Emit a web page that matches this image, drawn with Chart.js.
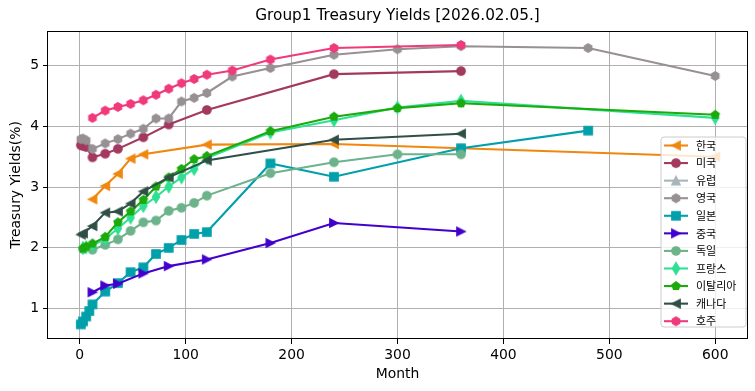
<!DOCTYPE html>
<html><head><meta charset="utf-8">
<script src="https://cdn.jsdelivr.net/npm/chart.js@4.4.1/dist/chart.umd.min.js"></script>
<style>html,body{margin:0;padding:0;background:#fff}#wrap{width:755px;height:391px}</style>
</head><body><div id="wrap"><canvas id="c" width="755" height="391"></canvas></div>
<script>
// ---------- data ----------
const chartTitle = 'Group1 Treasury Yields [2026.02.05.]';
const xTitle = 'Month';
const yTitle = 'Treasury Yields(%)';
const xTickValues = [0, 100, 200, 300, 400, 500, 600];
const yTickValues = [1, 2, 3, 4, 5];

const seriesNames = ['한국','미국','유럽','영국','일본','중국','독일','프랑스','이탈리아','캐나다','호주'];

const krMonths = [12, 24, 36, 48, 60, 120, 240, 600];
const krYields = [2.80, 3.02, 3.22, 3.47, 3.54, 3.70, 3.71, 3.50];

const usMonths = [1, 3, 6, 12, 24, 36, 60, 84, 120, 240, 360];
const usYields = [3.69, 3.68, 3.66, 3.49, 3.55, 3.63, 3.82, 4.03, 4.27, 4.86, 4.91];

const euMonths = [];
const euYields = [];

const ukMonths = [1, 3, 6, 12, 24, 36, 48, 60, 72, 84, 96, 108, 120, 144, 180, 240, 300, 360, 480, 600];
const ukYields = [3.79, 3.80, 3.77, 3.63, 3.72, 3.79, 3.88, 3.96, 4.13, 4.13, 4.41, 4.47, 4.55, 4.82, 4.96, 5.18, 5.27, 5.32, 5.29, 4.83];

const jpMonths = [1, 3, 6, 9, 12, 24, 36, 48, 60, 72, 84, 96, 108, 120, 180, 240, 360, 480];
const jpYields = [0.74, 0.79, 0.87, 0.96, 1.07, 1.28, 1.42, 1.60, 1.68, 1.90, 2.00, 2.13, 2.23, 2.26, 3.39, 3.17, 3.64, 3.93];

const cnMonths = [12, 24, 36, 60, 84, 120, 180, 240, 360];
const cnYields = [1.27, 1.38, 1.41, 1.58, 1.70, 1.81, 2.08, 2.41, 2.27];

const deMonths = [3, 12, 24, 36, 48, 60, 72, 84, 96, 108, 120, 180, 240, 300, 360];
const deYields = [1.98, 1.97, 2.05, 2.14, 2.28, 2.42, 2.45, 2.61, 2.66, 2.74, 2.86, 3.23, 3.41, 3.54, 3.54];

const frMonths = [3, 6, 12, 24, 36, 48, 60, 72, 84, 96, 108, 120, 180, 240, 300, 360, 600];
const frYields = [2.00, 2.01, 2.04, 2.15, 2.32, 2.50, 2.69, 2.84, 3.01, 3.16, 3.30, 3.48, 3.90, 4.10, 4.31, 4.42, 4.14];

const itMonths = [3, 6, 12, 24, 36, 48, 60, 72, 84, 96, 108, 120, 180, 240, 300, 360, 600];
const itYields = [1.99, 2.02, 2.07, 2.18, 2.42, 2.60, 2.79, 3.01, 3.16, 3.30, 3.46, 3.51, 3.92, 4.16, 4.30, 4.38, 4.19];

const caMonths = [1, 3, 12, 24, 36, 48, 60, 84, 120, 240, 360];
const caYields = [2.22, 2.24, 2.36, 2.58, 2.60, 2.73, 2.93, 3.16, 3.44, 3.78, 3.88];

const auMonths = [12, 24, 36, 48, 60, 72, 84, 96, 108, 120, 144, 180, 240, 360];
const auYields = [4.14, 4.26, 4.32, 4.37, 4.43, 4.52, 4.62, 4.71, 4.78, 4.85, 4.92, 5.10, 5.29, 5.34];

// ---------- styles ----------
const seriesColors = ['#f0870f','#a3395f','#a9b5ba','#979094','#00a0aa','#4300cc','#6cb38b','#2ee092','#1caa0c','#2f4f47','#ef3a7b'];
const seriesMarkers = ['tri_left','circle','tri_up','hexagon','square','tri_right','circle','thin_diamond','pentagon','tri_left','hexagon'];
const allMonths = [krMonths, usMonths, euMonths, ukMonths, jpMonths, cnMonths, deMonths, frMonths, itMonths, caMonths, auMonths];
const allYields = [krYields, usYields, euYields, ukYields, jpYields, cnYields, deYields, frYields, itYields, caYields, auYields];

const PX = 100/72;            // px per pt (dpi 100)
const MS = 6 * PX;            // marker size
const MEW = 1 * PX;           // marker edge width
const LW = 1.5 * PX;          // line width

function makeMarker(shape, color) {
  const S = 18;
  const cv = document.createElement('canvas');
  cv.width = S; cv.height = S;
  const g = cv.getContext('2d');
  const c = S / 2, r = MS / 2;
  g.beginPath();
  const poly = (n, R, sx, sy, rot) => {
    for (let i = 0; i < n; i++) {
      const a = rot + i * 2 * Math.PI / n;
      const px = c + Math.sin(a) * R * sx, py = c - Math.cos(a) * R * sy;
      if (i === 0) g.moveTo(px, py); else g.lineTo(px, py);
    }
    g.closePath();
  };
  switch (shape) {
    case 'circle': g.arc(c, c, r, 0, Math.PI * 2); break;
    case 'tri_up': g.moveTo(c, c - r); g.lineTo(c - r, c + r); g.lineTo(c + r, c + r); g.closePath(); break;
    case 'tri_left': g.moveTo(c - r, c); g.lineTo(c + r, c - r); g.lineTo(c + r, c + r); g.closePath(); break;
    case 'tri_right': g.moveTo(c + r, c); g.lineTo(c - r, c - r); g.lineTo(c - r, c + r); g.closePath(); break;
    case 'square': g.rect(c - r, c - r, 2 * r, 2 * r); break;
    case 'hexagon': poly(6, r, 1, 1, 0); break;
    case 'pentagon': poly(5, r, 1, 1, 0); break;
    case 'thin_diamond': poly(4, MS * Math.SQRT1_2, 0.6, 1, 0); break;
  }
  g.fillStyle = color; g.fill();
  g.lineWidth = MEW; g.strokeStyle = color; g.lineJoin = 'miter'; g.stroke();
  return cv;
}

const markerCanvases = seriesNames.map((n, i) => makeMarker(seriesMarkers[i], seriesColors[i]));

const datasets = seriesNames.map((name, i) => ({
  label: name,
  data: allMonths[i].map((m, k) => ({ x: m, y: allYields[i][k] })),
  borderColor: seriesColors[i],
  backgroundColor: seriesColors[i],
  borderWidth: LW,
  pointStyle: markerCanvases[i],
  pointRadius: 5,
  pointHoverRadius: 5,
  showLine: true,
  tension: 0,
  fill: false,
  order: seriesNames.length - i
}));

const FONT = "'DejaVu Sans', 'Noto Sans CJK KR', sans-serif";
const KFONT = "'Noto Sans CJK KR', 'DejaVu Sans', sans-serif";

const decor = {
  id: 'decor',
  afterDatasetsDraw(chart) {
    const { ctx, chartArea: a } = chart;
    ctx.save();
    // spines
    ctx.strokeStyle = '#000'; ctx.lineWidth = 1;
    ctx.strokeRect(Math.round(a.left) - 0.5, Math.round(a.top) + 0.5, Math.round(a.right - a.left) + 1, Math.round(a.bottom - a.top) - 1);
    // legend
    const bx = 661, by = 137, bw = 85, bh = 190, rr = 3;
    ctx.beginPath();
    ctx.moveTo(bx + rr, by); ctx.lineTo(bx + bw - rr, by); ctx.arcTo(bx + bw, by, bx + bw, by + rr, rr);
    ctx.lineTo(bx + bw, by + bh - rr); ctx.arcTo(bx + bw, by + bh, bx + bw - rr, by + bh, rr);
    ctx.lineTo(bx + rr, by + bh); ctx.arcTo(bx, by + bh, bx, by + bh - rr, rr);
    ctx.lineTo(bx, by + rr); ctx.arcTo(bx, by, bx + rr, by, rr); ctx.closePath();
    ctx.fillStyle = 'rgba(255,255,255,0.8)'; ctx.fill();
    ctx.strokeStyle = '#cccccc'; ctx.lineWidth = 1; ctx.stroke();
    const rowH = 17.57, y0 = 145.5;
    ctx.font = '11px ' + KFONT; ctx.textBaseline = 'middle'; ctx.textAlign = 'left';
    seriesNames.forEach((name, i) => {
      const y = y0 + i * rowH;
      ctx.strokeStyle = seriesColors[i]; ctx.lineWidth = LW;
      ctx.beginPath(); ctx.moveTo(664, y); ctx.lineTo(688, y); ctx.stroke();
      const m = markerCanvases[i];
      ctx.drawImage(m, 676 - m.width / 2, y - m.height / 2);
      ctx.fillStyle = '#000';
      ctx.fillText(name, 696, y);
    });
    ctx.restore();
  },
  afterDraw(chart) {
    const { ctx, chartArea: a } = chart;
    ctx.save();
    ctx.fillStyle = '#000';
    ctx.textAlign = 'center'; ctx.textBaseline = 'middle';
    ctx.font = '15.3px ' + FONT;
    ctx.fillText(chartTitle, (a.left + a.right) / 2, 16);
    ctx.font = '13.9px ' + FONT;
    ctx.fillText(xTitle, (a.left + a.right) / 2, 374);
    ctx.translate(16, (a.top + a.bottom) / 2);
    ctx.rotate(-Math.PI / 2);
    ctx.fillText(yTitle, 0, 0);
    ctx.restore();
  }
};

new Chart(document.getElementById('c'), {
  type: 'scatter',
  data: { datasets },
  options: {
    responsive: false,
    animation: false,
    devicePixelRatio: 1,
    events: [],
    layout: { padding: { left: 0, right: 8, top: 31, bottom: 0 } },
    plugins: { legend: { display: false }, title: { display: false }, tooltip: { enabled: false } },
    scales: {
      x: {
        type: 'linear', min: -30, max: 630,
        afterBuildTicks: (s) => { s.ticks = xTickValues.map(v => ({ value: v })); },
        afterFit: (s) => { s.height = 52; },
        grid: { color: '#b0b0b0', lineWidth: 1, drawTicks: true, tickLength: 5, tickColor: '#000', tickWidth: 1 },
        border: { display: false },
        ticks: { color: '#000', font: { family: FONT, size: 13.9 }, padding: 3, maxRotation: 0, autoSkip: false }
      },
      y: {
        type: 'linear', min: 0.5, max: 5.57,
        afterBuildTicks: (s) => { s.ticks = yTickValues.map(v => ({ value: v })); },
        afterFit: (s) => { s.width = 48; },
        grid: { color: '#b0b0b0', lineWidth: 1, drawTicks: true, tickLength: 5, tickColor: '#000', tickWidth: 1 },
        border: { display: false },
        ticks: { color: '#000', font: { family: FONT, size: 13.9 }, padding: 4, autoSkip: false }
      }
    }
  },
  plugins: [decor]
});
</script></body></html>
